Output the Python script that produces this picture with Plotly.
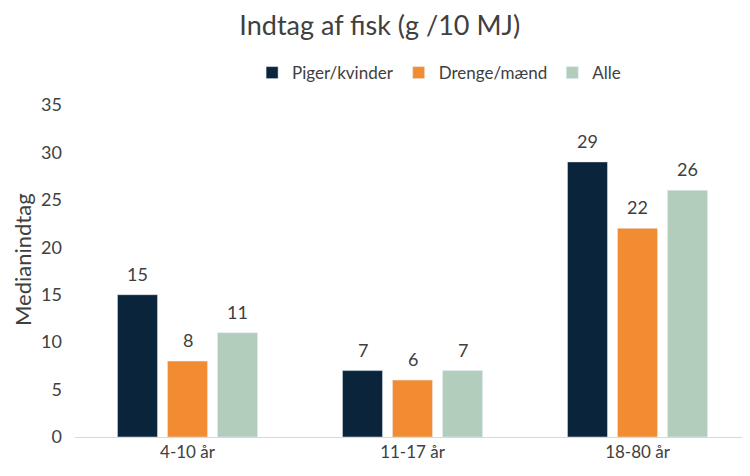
import plotly.graph_objects as go

categories = ["4-10 år", "11-17 år", "18-80 år"]
piger = [15, 7, 29]
drenge = [8, 6, 22]
alle = [11, 7, 26]
series_names = ["Piger/kvinder", "Drenge/mænd", "Alle"]
colors = ["#0A243B", "#F28C33", "#B3CDBD"]

fig = go.Figure()
annotations = []
for i, (name, vals, c) in enumerate(zip(series_names, [piger, drenge, alle], colors)):
    fig.add_trace(go.Bar(x=categories, y=vals, name=name, marker_color=c))
    for cat, v in zip(categories, vals):
        annotations.append(dict(
            x=cat, y=v, xref="x", yref="y", text=str(v), showarrow=False,
            xshift=(i - 1) * 50, yshift=8, yanchor="bottom",
            font=dict(size=18, color="#404040"),
        ))

annotations.append(dict(
    text="Medianindtag", textangle=-90, showarrow=False,
    xref="paper", x=0, xanchor="center", xshift=-53,
    yref="paper", y=0.533, yanchor="middle",
    font=dict(size=22, color="#404040"),
))

fig.update_layout(
    width=742, height=468,
    paper_bgcolor="white", plot_bgcolor="white",
    font=dict(family="Lato, sans-serif", color="#404040", size=16),
    title=dict(text="Indtag af fisk (g /10 MJ)", x=0.501, xanchor="center",
               y=0.963, yanchor="middle", font=dict(size=27, color="#404040")),
    legend=dict(orientation="h", x=0.581, xref="container", xanchor="center",
                y=0.861, yref="container", yanchor="middle",
                font=dict(size=17, color="#404040"), traceorder="normal"),
    margin=dict(l=67, r=0, t=97, b=39, autoexpand=False),
    bargap=0.333, bargroupgap=0.2,
    annotations=annotations,
    xaxis=dict(showline=True, linecolor="#D9D9D9", linewidth=1, ticks="",
               tickfont=dict(size=17), automargin=False),
    yaxis=dict(range=[0, 35], dtick=5, showgrid=False, zeroline=False,
               tickfont=dict(size=18), ticklabelstandoff=12, automargin=False),
)

fig.write_html("out.html")
